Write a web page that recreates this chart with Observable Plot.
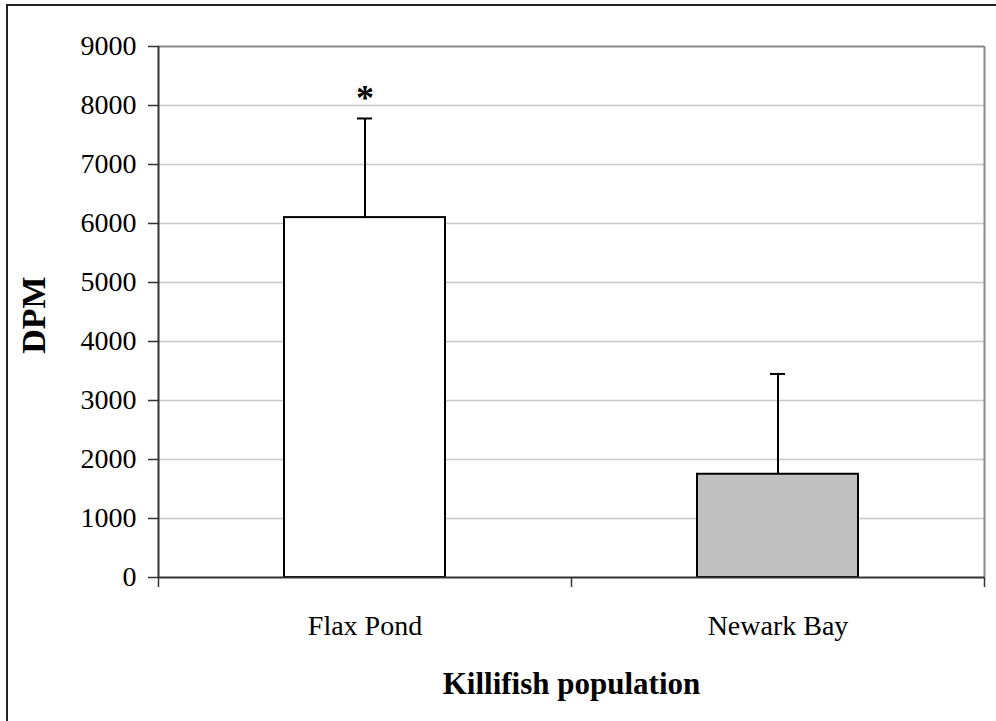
<!DOCTYPE html>
<html>
<head>
<meta charset="utf-8">
<script src="https://cdn.jsdelivr.net/npm/d3@7"></script>
<script src="https://cdn.jsdelivr.net/npm/@observablehq/plot@0.6"></script>
<style>
  html, body { margin: 0; padding: 0; background: #fff; overflow: hidden; }
  #wrap { position: relative; width: 996px; height: 721px; }
  #outer { position: absolute; left: 6px; top: 4px; width: 1100px; height: 900px;
           border-left: 2px solid #222; border-top: 2px solid #222; pointer-events: none; }
  #wrap svg, #wrap svg text { font-family: "Liberation Serif", "Times New Roman", serif !important; }
</style>
</head>
<body>
<div id="wrap"><div id="outer"></div></div>
<script>
const populations = ["Flax Pond", "Newark Bay"];
const dpm = [6100, 1750];
const dpmErrorUpper = [1680, 1700];
const significance = ["*", ""];
const yTicks = [0, 1000, 2000, 3000, 4000, 5000, 6000, 7000, 8000, 9000];
const xLabel = "Killifish population";
const yLabel = "DPM";

const data = populations.map((p, i) => ({
  name: p, i, value: dpm[i], err: dpmErrorUpper[i], top: dpm[i] + dpmErrorUpper[i], sig: significance[i]
}));

const font = "'Liberation Serif', 'Times New Roman', serif";

const chart = Plot.plot({
  width: 996,
  height: 721,
  marginLeft: 158,
  marginRight: 12,
  marginTop: 46,
  marginBottom: 144,
  style: { fontFamily: font, fontSize: "28px", color: "#000", background: "transparent" },
  x: { type: "linear", domain: [0, populations.length], axis: null },
  y: { domain: [0, 9000], axis: null },
  color: { type: "ordinal", domain: populations, range: ["#ffffff", "#c0c0c0"] },
  marks: [
    Plot.gridY(yTicks.filter(d => d > 0 && d < 9000), { stroke: "#c8c8c8", strokeOpacity: 1, strokeWidth: 1.5 }),
    Plot.ruleY([9000], { stroke: "#888", strokeWidth: 2 }),
    Plot.ruleX([populations.length], { y1: 0, y2: 9000, stroke: "#888", strokeWidth: 2 }),
    Plot.rectY(data, {
      x1: d => d.i, x2: d => d.i + 1, y1: 0, y2: "value",
      fill: "name", stroke: "#000", strokeWidth: 2,
      insetLeft: 126, insetRight: 126
    }),
    Plot.ruleX(data, { x: d => d.i + 0.5, y1: "value", y2: "top", stroke: "#000", strokeWidth: 2 }),
    Plot.ruleY(data, { x1: d => d.i + 0.5, x2: d => d.i + 0.5, y: "top", stroke: "#000", strokeWidth: 2, insetLeft: -7.5, insetRight: -7.5 }),
    Plot.text(data, { x: d => d.i + 0.5, y: "top", text: "sig", lineAnchor: "bottom", dy: -8, fontSize: 36, fontWeight: "bold", fontFamily: font }),
    Plot.ruleY([0], { stroke: "#333", strokeWidth: 2 }),
    Plot.ruleX([0], { y1: 0, y2: 9000, stroke: "#333", strokeWidth: 2 }),
    Plot.axisY({ ticks: yTicks, tickSize: 10, tickPadding: 12, tickFormat: d3.format("d"), stroke: "#333", strokeWidth: 1.5, label: null, fontSize: 28, fontFamily: font }),
    Plot.axisX({ ticks: d3.range(0, populations.length + 1), tickSize: 10, tickFormat: () => "", stroke: "#333", strokeWidth: 1.5, label: null }),
    Plot.axisX({ ticks: populations.map((p, i) => i + 0.5), tickSize: 0, tickPadding: 38, tickFormat: (d) => populations[Math.floor(d)], label: null, fontSize: 28, fontFamily: font }),
    Plot.text([yLabel], { frameAnchor: "left", dx: -124, dy: 3, rotate: -90, fontWeight: "bold", fontSize: 34, fontFamily: font, textAnchor: "middle", lineAnchor: "middle" }),
    Plot.text([xLabel], { frameAnchor: "bottom", dy: 116, fontWeight: "bold", fontSize: 31, fontFamily: font, textAnchor: "middle", lineAnchor: "bottom" })
  ]
});
chart.style.position = "absolute";
chart.style.left = "0px";
chart.style.top = "0px";
document.getElementById("wrap").appendChild(chart);
</script>
</body>
</html>
